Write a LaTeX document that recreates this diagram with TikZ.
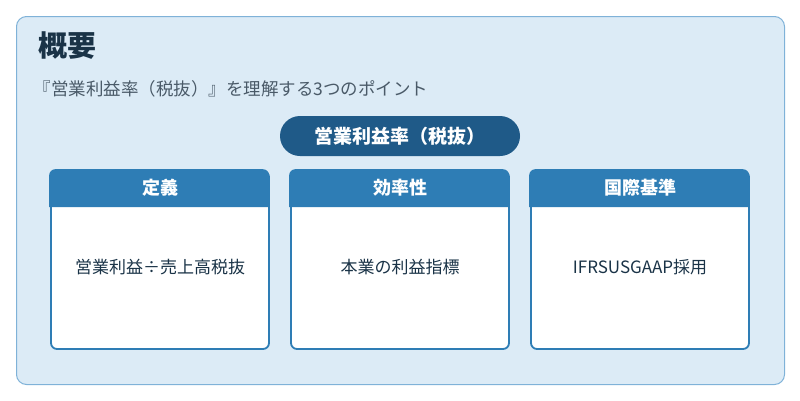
\documentclass[tikz,border=0pt]{standalone}
\usepackage{fontspec}
\setmainfont{Noto Sans CJK JP}
\usetikzlibrary{positioning}
\definecolor{bgblue}{HTML}{DCEBF6}
\definecolor{edgeblue}{HTML}{7FB2D8}
\definecolor{darkblue}{HTML}{1F5A88}
\definecolor{headblue}{HTML}{2E7DB5}
\definecolor{titlecol}{HTML}{1A3347}
\definecolor{subcol}{HTML}{4A5A68}
\tikzset{
  card/.style={draw=headblue, line width=1.8pt, fill=white, rounded corners=6pt,
    minimum width=218pt, minimum height=178pt, inner sep=0pt},
  cardtext/.style={font=\fontsize{17}{20}\selectfont, text=titlecol},
  headtext/.style={font=\bfseries\fontsize{18}{20}\selectfont, text=white},
}
\begin{document}
\begin{tikzpicture}[x=1pt, y=-1pt]
        \useasboundingbox (0,0) rectangle (800,400);
        % Frame
        \node[draw=edgeblue, line width=1pt, fill=bgblue, rounded corners=10pt,
              minimum width=768pt, minimum height=368pt] (frame) at (400.5,200.5) {};
        \node[anchor=west, font=\bfseries\fontsize{29}{32}\selectfont, text=titlecol] (title) at (35,46) {概要};
        \node[anchor=west, font=\fontsize{17.5}{20}\selectfont, text=subcol] (sub) at (30,89) {『営業利益率（税抜）』を理解する3つのポイント};

        % Pill
        \node[fill=darkblue, rounded corners=20pt, minimum width=240pt, minimum height=40pt,
              font=\bfseries\fontsize{19}{22}\selectfont, text=white] (pill) at (400,136) {営業利益率（税抜）};

        % Cards
        \foreach \n/\cx/\head/\body in {c1/160/定義/営業利益÷売上高税抜, c2/400/効率性/本業の利益指標, c3/640/国際基準/IFRSUSGAAP採用}{
          \node[card] (\n) at (\cx,260) {};
          \fill[headblue] (\n.north west) ++(-0.9,37) [rounded corners=6pt] -- ++(0,-37.9) -- ++(219.8,0) [sharp corners] -- ++(0,37.9) -- cycle;
          \node[headtext] (\n h) at ([yshift=-18]\n.north) {\head};
          \node[cardtext] (\n b) at ([yshift=-7]\n.center) {\body};
        }
    \end{tikzpicture}
\end{document}
